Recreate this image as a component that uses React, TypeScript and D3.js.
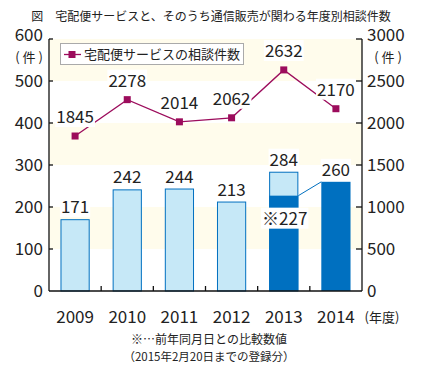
import { useEffect, useRef } from 'react';
import * as d3 from 'd3';

const years = ['2009', '2010', '2011', '2012', '2013', '2014'];
const mailOrderCounts = [171, 242, 244, 213, 284, 260];
const deliveryCounts = [1845, 2278, 2014, 2062, 2632, 2170];
const prevYearSameDay = 227;
const leftTicks = [0, 100, 200, 300, 400, 500, 600];
const rightTicks = [0, 500, 1000, 1500, 2000, 2500, 3000];

const FONT = '"Noto Sans CJK JP", "Noto Sans", sans-serif';
const LINE_COLOR = '#9c0c5c';
const DARK_BLUE = '#0070c0';
const LIGHT_BLUE = '#c6e8f7';
const CREAM = '#fffcec';

export default function App() {
  const svgRef = useRef<SVGSVGElement | null>(null);

  useEffect(() => {
    if (!svgRef.current) return;
    const width = 422;
    const height = 369;
    const left = 49;
    const right = 362;
    const top = 39;
    const bottom = 291;

    const svg = d3.select(svgRef.current);
    svg.selectAll('*').remove();
    svg.attr('width', width).attr('height', height).style('font-family', FONT);

    const x = d3.scaleBand<string>().domain(years).range([left, right]).padding(0);
    const yL = d3.scaleLinear().domain([0, 600]).range([bottom, top]);
    const yR = d3.scaleLinear().domain([0, 3000]).range([bottom, top]);
    const barW = x.bandwidth() * 0.56;
    const cx = (d: string) => (x(d) as number) + x.bandwidth() / 2;

    // background bands
    const bands = [[500, 600], [300, 400], [100, 200]];
    svg.append('g').selectAll('rect').data(bands).enter().append('rect')
      .attr('x', left).attr('width', right - left)
      .attr('y', d => yL(d[1])).attr('height', d => yL(d[0]) - yL(d[1]))
      .attr('fill', CREAM);

    // title
    svg.append('text')
      .attr('x', 211).attr('y', 21).attr('text-anchor', 'middle')
      .attr('font-size', 12).attr('fill', '#222')
      .text('図　宅配便サービスと、そのうち通信販売が関わる年度別相談件数');

    // bars
    const bars = svg.append('g');
    years.forEach((yr, i) => {
      const v = mailOrderCounts[i];
      const bx = cx(yr) - barW / 2;
      if (yr === '2013') {
        bars.append('rect').attr('x', bx + 0.5).attr('y', yL(v) + 0.5)
          .attr('width', barW - 1).attr('height', yL(0) - yL(v) - 0.5)
          .attr('fill', LIGHT_BLUE).attr('stroke', DARK_BLUE).attr('stroke-width', 1);
        bars.append('rect').attr('x', bx).attr('y', yL(prevYearSameDay))
          .attr('width', barW).attr('height', yL(0) - yL(prevYearSameDay))
          .attr('fill', DARK_BLUE);
      } else if (yr === '2014') {
        bars.append('rect').attr('x', bx).attr('y', yL(v))
          .attr('width', barW).attr('height', yL(0) - yL(v))
          .attr('fill', DARK_BLUE);
      } else {
        bars.append('rect').attr('x', bx + 0.5).attr('y', yL(v) + 0.5)
          .attr('width', barW - 1).attr('height', yL(0) - yL(v) - 0.5)
          .attr('fill', LIGHT_BLUE).attr('stroke', DARK_BLUE).attr('stroke-width', 1);
      }
    });

    // connector 2013 (227) -> 2014
    bars.append('line')
      .attr('x1', cx('2013') + barW / 2).attr('y1', yL(prevYearSameDay))
      .attr('x2', cx('2014') - barW / 2).attr('y2', yL(mailOrderCounts[5]))
      .attr('stroke', DARK_BLUE).attr('stroke-width', 1);

    // line series
    const line = d3.line<number>()
      .x((_, i) => cx(years[i]))
      .y(d => yR(d));
    svg.append('path').datum(deliveryCounts)
      .attr('d', line).attr('fill', 'none')
      .attr('stroke', LINE_COLOR).attr('stroke-width', 1.3);

    const labelG = svg.append('g');
    const addLabel = (tx: number, ty: number, txt: string) => {
      const g = labelG.append('g');
      const rect = g.append('rect').attr('fill', 'white');
      const t = g.append('text').attr('x', tx).attr('y', ty)
        .attr('text-anchor', 'middle').attr('font-size', 17).attr('fill', '#222')
        .text(txt);
      const bb = (t.node() as SVGTextElement).getBBox();
      rect.attr('x', bb.x - 1).attr('y', bb.y + 3).attr('width', bb.width + 2).attr('height', bb.height - 4);
    };

    // axes ticks / lines
    const axes = svg.append('g').attr('stroke', '#111').attr('stroke-width', 1.3);
    axes.append('line').attr('x1', left).attr('x2', left).attr('y1', top).attr('y2', bottom);
    axes.append('line').attr('x1', right).attr('x2', right).attr('y1', top).attr('y2', bottom);
    axes.append('line').attr('x1', left).attr('x2', right).attr('y1', bottom).attr('y2', bottom);
    axes.selectAll('.lt').data(leftTicks.slice(1)).enter().append('line')
      .attr('x1', left).attr('x2', left + 4).attr('y1', d => yL(d)).attr('y2', d => yL(d));
    axes.selectAll('.rt').data(rightTicks.slice(1)).enter().append('line')
      .attr('x1', right - 6).attr('x2', right).attr('y1', d => yR(d)).attr('y2', d => yR(d));
    axes.selectAll('.xt').data(years.slice(1)).enter().append('line')
      .attr('x1', d => x(d) as number).attr('x2', d => x(d) as number)
      .attr('y1', bottom).attr('y2', bottom - 5);

    // markers
    svg.append('g').selectAll('rect').data(deliveryCounts).enter().append('rect')
      .attr('x', (_, i) => cx(years[i]) - 3.5).attr('y', d => yR(d) - 3.5)
      .attr('width', 7).attr('height', 7).attr('fill', LINE_COLOR);

    // labels
    years.forEach((yr, i) => {
      addLabel(cx(yr), yL(mailOrderCounts[i]) - 6, String(mailOrderCounts[i]));
      addLabel(cx(yr), yR(deliveryCounts[i]) - 13, String(deliveryCounts[i]));
    });
    addLabel(cx('2013') + 1, yL(prevYearSameDay) + 29, '※' + prevYearSameDay);

    // tick labels
    const tl = svg.append('g').attr('font-size', 17).attr('fill', '#222');
    tl.selectAll('.ll').data(leftTicks).enter().append('text')
      .attr('x', 43).attr('y', d => yL(d) + (d === 600 ? 2 : 6)).attr('text-anchor', 'end')
      .text(d => d);
    tl.selectAll('.rl').data(rightTicks).enter().append('text')
      .attr('x', 367).attr('y', d => yR(d) + (d === 3000 ? 2 : 6)).attr('text-anchor', 'start')
      .text(d => d);
    tl.selectAll('.xl').data(years).enter().append('text')
      .attr('x', d => cx(d)).attr('y', 323).attr('text-anchor', 'middle')
      .text(d => d);
    tl.append('text').attr('x', 29).attr('y', 62).attr('text-anchor', 'middle')
      .attr('font-size', 13).text('( 件 )');
    tl.append('text').attr('x', 388).attr('y', 62).attr('text-anchor', 'middle')
      .attr('font-size', 13).text('( 件 )');
    tl.append('text').attr('x', 382).attr('y', 322).attr('text-anchor', 'middle')
      .attr('font-size', 13).text('(年度)');

    // legend
    const lg = svg.append('g');
    lg.append('rect').attr('x', 60.5).attr('y', 43.5).attr('width', 183).attr('height', 21)
      .attr('fill', 'white').attr('stroke', '#aaa').attr('stroke-width', 1);
    lg.append('line').attr('x1', 64).attr('x2', 81).attr('y1', 54.5).attr('y2', 54.5)
      .attr('stroke', LINE_COLOR).attr('stroke-width', 1.3);
    lg.append('rect').attr('x', 68.5).attr('y', 51).attr('width', 7).attr('height', 7)
      .attr('fill', LINE_COLOR);
    lg.append('text').attr('x', 84).attr('y', 59).attr('font-size', 13).attr('fill', '#222')
      .text('宅配便サービスの相談件数');

    // footnote
    svg.append('text').attr('x', 209).attr('y', 343.5).attr('text-anchor', 'middle')
      .attr('font-size', 12).attr('fill', '#222').text('※…前年同月日との比較数値');
    svg.append('text').attr('x', 209).attr('y', 361).attr('text-anchor', 'middle')
      .attr('font-size', 11.5).attr('fill', '#222').text('（2015年2月20日までの登録分）');
  }, []);

  return <svg ref={svgRef} style={{ position: 'absolute', left: 0, top: 0 }} />;
}
